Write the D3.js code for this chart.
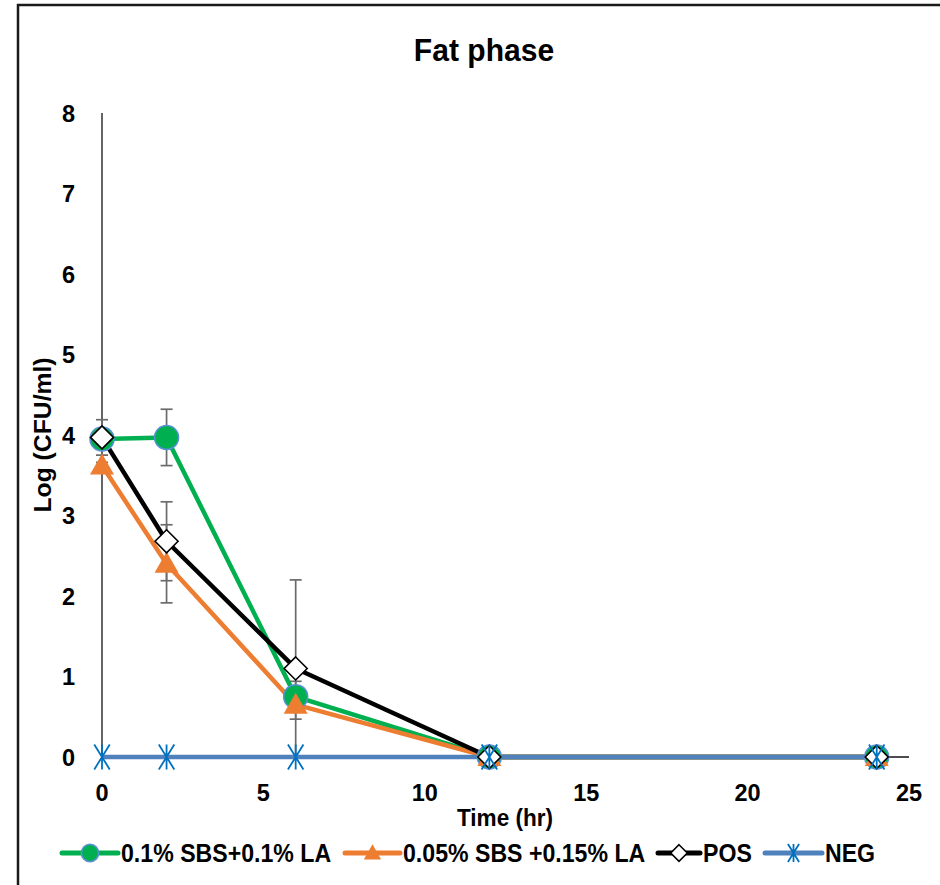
<!DOCTYPE html>
<html><head><meta charset="utf-8">
<script src="https://cdn.jsdelivr.net/npm/d3@7"></script>
<style>
html,body{margin:0;padding:0;background:#fff;}
svg{display:block;}
text{font-family:"Liberation Sans",Arial,sans-serif;font-weight:bold;fill:#000;}
</style></head><body>
<svg id="chart" width="940" height="885"></svg>
<script>
const times = [0, 2, 6, 12, 24];
const seriesNames = ["0.1% SBS+0.1% LA", "0.05% SBS +0.15% LA", "POS", "NEG"];
const sbs01 = [3.95, 3.97, 0.75, 0, 0];
const sbs01Err = [0.04, 0.35, 0.19, 0, 0];
const sbs005 = [3.62, 2.40, 0.65, 0, 0];
const sbs005Err = [0.04, 0.485, 0.18, 0, 0];
const pos = [3.97, 2.68, 1.10, 0, 0];
const posErr = [0.22, 0.49, 1.1, 0, 0];
const neg = [0, 0, 0, 0, 0];
const negErr = [0, 0, 0, 0, 0];
const xTicks = [0, 5, 10, 15, 20, 25];
const yTicks = [0, 1, 2, 3, 4, 5, 6, 7, 8];
const title = "Fat phase";
const xLabel = "Time (hr)";
const yLabel = "Log (CFU/ml)";

const svg = d3.select("#chart");
const x = d3.scaleLinear().domain([0, 25]).range([102, 909]);
const y = d3.scaleLinear().domain([0, 8]).range([757, 113]);

function addText(parent, tx, ty, str, size, anchor, sx, rot) {
  const g = parent.append("g").attr("transform", `translate(${tx},${ty})` + (rot ? ` rotate(${rot})` : "") + ` scale(${sx},1)`);
  g.append("text").attr("x", 0).attr("y", 0).attr("text-anchor", anchor).attr("font-size", size).text(str);
  return g;
}

// frame
svg.append("path").attr("d", "M18,885 V5 H940").attr("fill", "none").attr("stroke", "#1a1a1a").attr("stroke-width", 2.5);

addText(svg, 484, 61, title, 31, "middle", 0.97);

// axis lines
svg.append("line").attr("x1", x(0)).attr("x2", x(0)).attr("y1", y(8)).attr("y2", y(0)).attr("stroke", "#111").attr("stroke-width", 1.3);
svg.append("line").attr("x1", x(0)).attr("x2", x(25)).attr("y1", y(0)).attr("y2", y(0)).attr("stroke", "#111").attr("stroke-width", 1.3);

// tick labels
yTicks.forEach(d => addText(svg, 75, y(d) + 8.5, d, 23.5, "end", 1));
xTicks.forEach(d => addText(svg, x(d), 801, d, 23.5, "middle", 1));

addText(svg, 505, 826, xLabel, 24, "middle", 0.94);
addText(svg, 51, 435, yLabel, 24, "middle", 1.03, -90);

const series = [
  {name: seriesNames[0], vals: sbs01, err: sbs01Err, color: "#00B050", marker: "circle"},
  {name: seriesNames[1], vals: sbs005, err: sbs005Err, color: "#ED7D31", marker: "triangle"},
  {name: seriesNames[2], vals: pos, err: posErr, color: "#000000", marker: "diamond"},
  {name: seriesNames[3], vals: neg, err: negErr, color: "#4F81BD", marker: "star"}
];

function drawMarker(g, type, cx, cy, k) {
  if (type === "circle") {
    g.append("circle").attr("cx", cx).attr("cy", cy).attr("r", 12 * k).attr("fill", "#00B050").attr("stroke", "#5B8FD6").attr("stroke-width", 1.5);
  } else if (type === "triangle") {
    g.append("path").attr("d", `M${cx},${cy - 12 * k} L${cx + 12 * k},${cy + 9 * k} L${cx - 12 * k},${cy + 9 * k} Z`).attr("fill", "#ED7D31");
  } else if (type === "diamond") {
    const s = 11.5 * k;
    g.append("path").attr("d", `M${cx},${cy - s} L${cx + s},${cy} L${cx},${cy + s} L${cx - s},${cy} Z`).attr("fill", "#fff").attr("stroke", "#000").attr("stroke-width", 1.6);
  } else if (type === "star") {
    const s = 12.5 * k;
    g.append("path").attr("d", `M${cx - s * 0.62},${cy - s} L${cx + s * 0.62},${cy + s} M${cx + s * 0.62},${cy - s} L${cx - s * 0.62},${cy + s} M${cx},${cy - s} V${cy + s}`)
      .attr("stroke", "#0070C0").attr("stroke-width", 1.8).attr("fill", "none");
  }
}

const plot = svg.append("g");
// error bars
series.forEach(s => {
  s.vals.forEach((v, i) => {
    if (s.err[i] <= 0) return;
    const g = plot.append("g").attr("stroke", "#6b6b6b").attr("stroke-width", 1.7);
    const cx = x(times[i]);
    const hi = y(v + s.err[i]), lo = y(v - s.err[i]);
    g.append("line").attr("x1", cx).attr("x2", cx).attr("y1", hi).attr("y2", lo);
    g.append("line").attr("x1", cx - 6).attr("x2", cx + 6).attr("y1", hi).attr("y2", hi);
    g.append("line").attr("x1", cx - 6).attr("x2", cx + 6).attr("y1", lo).attr("y2", lo);
  });
});

const line = d3.line().x((d, i) => x(times[i])).y(d => y(d));
series.forEach(s => {
  plot.append("path").datum(s.vals).attr("d", line).attr("fill", "none").attr("stroke", s.color).attr("stroke-width", 4.5).attr("stroke-linejoin", "round");
});
// markers in reverse series order is not Excel's; Excel draws each series' line+markers in order
series.forEach(s => {
  s.vals.forEach((v, i) => drawMarker(plot, s.marker, x(times[i]), y(v), 1));
});

// legend
const legendX = [62, 345, 658, 765];
const legendW = [56, 55, 42, 57];
const ly = 853;
series.forEach((s, k) => {
  const x0 = legendX[k], w = legendW[k];
  svg.append("line").attr("x1", x0).attr("x2", x0 + w).attr("y1", ly).attr("y2", ly).attr("stroke", s.color).attr("stroke-width", 5).attr("stroke-linecap", "round");
  drawMarker(svg.append("g"), s.marker, x0 + w / 2, ly, 0.72);
  addText(svg, x0 + w + 3, ly + 9, s.name, 25, "start", 0.925);
});
</script>
</body></html>
